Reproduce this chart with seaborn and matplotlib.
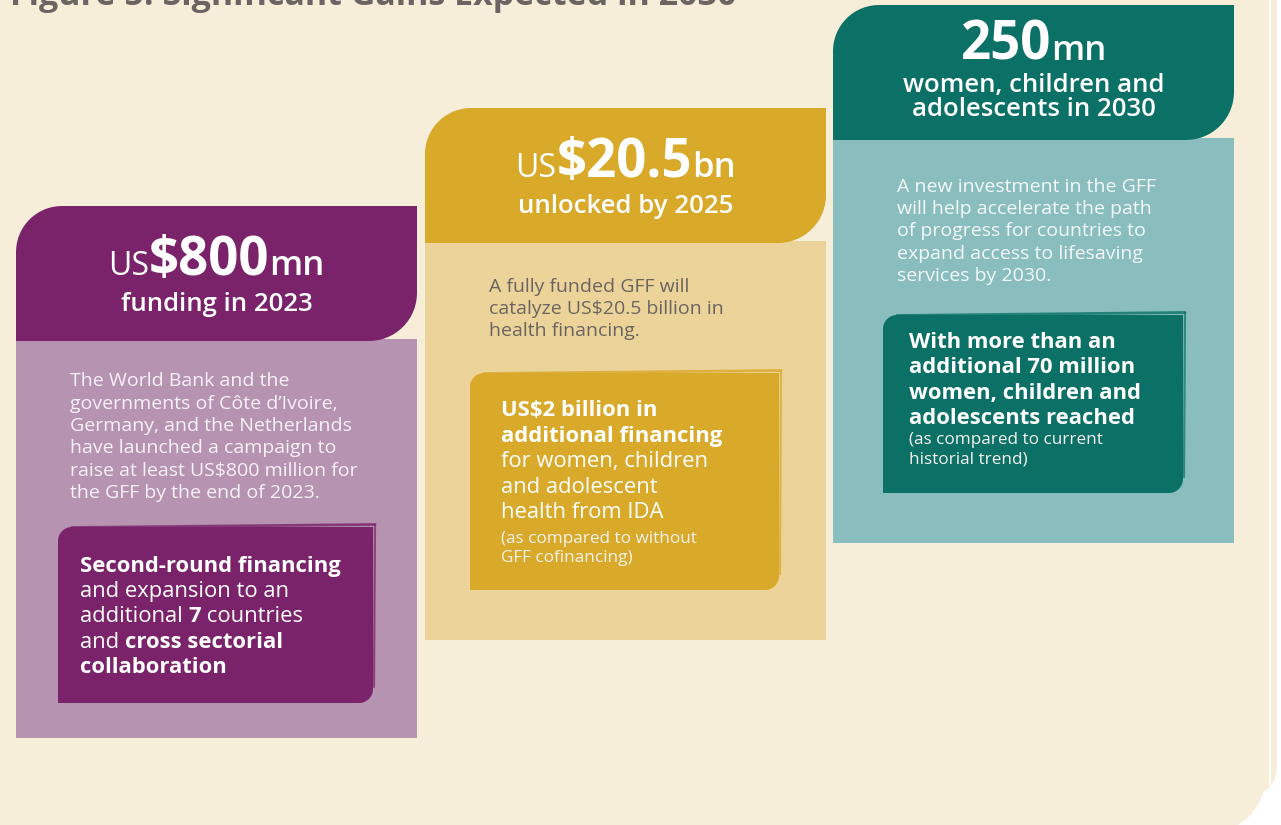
import numpy as np
import matplotlib
matplotlib.use("Agg")
import matplotlib.pyplot as plt
from matplotlib.patches import Polygon, Rectangle, FancyBboxPatch
import seaborn as sns

# ---------------- data ----------------
title = "Figure 5: Significant Gains Expected in 2030"
headline_prefix = ["US", "US", ""]
headline_value = ["$800", "$20.5", "250"]
headline_unit = ["mn", "bn", "mn"]
headline_sub = [["funding in 2023"],
                ["unlocked by 2025"],
                ["women, children and", "adolescents in 2030"]]
body_text = [
    ["The World Bank and the",
     "governments of Côte d’Ivoire,",
     "Germany, and the Netherlands",
     "have launched a campaign to",
     "raise at least US$800 million for",
     "the GFF by the end of 2023."],
    ["A fully funded GFF will",
     "catalyze US$20.5 billion in",
     "health financing."],
    ["A new investment in the GFF",
     "will help accelerate the path",
     "of progress for countries to",
     "expand access to lifesaving",
     "services by 2030."],
]
highlight_1 = [[("Second-round financing", "b")],
               [("and expansion to an", "r")],
               [("additional ", "r"), ("7", "b"), (" countries", "r")],
               [("and ", "r"), ("cross sectorial", "b")],
               [("collaboration", "b")]]
highlight_2 = [[("US$2 billion in", "b")],
               [("additional financing", "b")],
               [("for women, children", "r")],
               [("and adolescent", "r")],
               [("health from IDA", "r")],
               [("(as compared to without", "s")],
               [("GFF cofinancing)", "s")]]
highlight_3 = [[("With more than an", "b")],
               [("additional 70 million", "b")],
               [("women, children and", "b")],
               [("adolescents reached", "b")],
               [("(as compared to current", "s")],
               [("historial trend)", "s")]]
highlights = [highlight_1, highlight_2, highlight_3]

# ---------------- style ----------------
dark_cols = ["#7A236A", "#D9A929", "#0B7167"]
light_cols = ["#B693B1", "#ECD399", "#8ABEBE"]
body_cols = ["#F8F1F6", "#6C6461", "#F3F8F8"]
cream = "#F6EED8"

sns.set_theme(style="white")
FONT = ["Open Sans", "DejaVu Sans"]
plt.rcParams["font.family"] = FONT

W, H = 1281, 825
fig = plt.figure(figsize=(W / 100, H / 100), dpi=100)
fig.patch.set_facecolor("white")
ax = fig.add_axes([0, 0, 1, 1])
ax.set_xlim(0, W)
ax.set_ylim(H, 0)
ax.axis("off")
renderer = fig.canvas.get_renderer()


def rounded_poly(x0, y0, x1, y1, tl=0, tr=0, br=0, bl=0, n=16):
    pts = []

    def arc(cx, cy, r, a0, a1):
        a = np.radians(np.linspace(a0, a1, n))
        return list(zip(cx + r * np.cos(a), cy + r * np.sin(a)))

    pts += arc(x0 + tl, y0 + tl, tl, 180, 270) if tl else [(x0, y0)]
    pts += arc(x1 - tr, y0 + tr, tr, 270, 360) if tr else [(x1, y0)]
    pts += arc(x1 - br, y1 - br, br, 0, 90) if br else [(x1, y1)]
    pts += arc(x0 + bl, y1 - bl, bl, 90, 180) if bl else [(x0, y1)]
    return np.array(pts)


def measure(s, **kw):
    t = ax.text(0, 0, "|" + s + "|", **kw)
    t0 = ax.text(0, 0, "||", **kw)
    w = t.get_window_extent(renderer).width - t0.get_window_extent(renderer).width
    t.remove()
    t0.remove()
    return w


def draw_runs(x, y, parts, ha="left"):
    widths = [measure(s, **kw) for s, kw in parts]
    total = sum(widths)
    start = x - total / 2 if ha == "center" else x
    for (s, kw), w in zip(parts, widths):
        ax.text(start, y, s, va="baseline", ha="left", **kw)
        start += w


# ---------------- background ----------------
ax.add_patch(FancyBboxPatch((-100, -100), 1377, 895,
                            boxstyle="round,pad=0,rounding_size=30",
                            fc=cream, ec="none", zorder=0))
ax.plot([1269.5, 1269.5], [0, 785], color="white", lw=1.4, zorder=0.5)
ax.add_patch(FancyBboxPatch((-100, -100), 1368, 935,
                            boxstyle="round,pad=0,rounding_size=75",
                            fc=cream, ec="none", zorder=1))

# title (mostly clipped at the top edge, as in the source)
ax.text(10, 5, title, fontsize=24.5, fontweight="bold", color="#6B6462",
        va="baseline", ha="left", zorder=2)

# ---------------- panels ----------------
px0 = [16, 425, 833]
pw = 401
htop = [206, 108, 5]
hh = 135
pbottom = [738, 640, 543]

big_base = [275, 177, 60]
sub_base = [311, 213, 92]
sub_step = 24
body_x = [70, 489, 897]
body_base = [386.5, 292, 192]
body_step = [22.3, 22, 22.2]

box = [(58, 525, 373, 703), (470, 371, 779, 590), (883, 313, 1183, 493)]
box_x = [80, 501, 909]
box_base = [[572, 597.5, 622.5, 647.5, 673],
            [416, 442, 467, 493, 518, 543, 562],
            [348, 373, 399, 424, 444, 463]]

for i in range(3):
    x0, x1 = px0[i], px0[i] + pw
    cx = (x0 + x1) / 2
    # light body panel
    ax.add_patch(Rectangle((x0, htop[i] + hh - 2), pw, pbottom[i] - htop[i] - hh + 2,
                           fc=light_cols[i], ec="none", zorder=2))
    # dark header
    ax.add_patch(Polygon(rounded_poly(x0, htop[i], x1, htop[i] + hh, tl=46, br=48),
                         closed=True, fc=dark_cols[i], ec="none", zorder=3))
    # headline
    parts = []
    if headline_prefix[i]:
        parts.append((headline_prefix[i], dict(fontsize=23, fontweight="medium", color="white", zorder=4)))
    parts.append((headline_value[i], dict(fontsize=38, fontweight="bold", color="white", zorder=4)))
    parts.append((headline_unit[i], dict(fontsize=25, fontweight="semibold", color="white", zorder=4)))
    draw_runs(cx, big_base[i], parts, ha="center")
    for k, line in enumerate(headline_sub[i]):
        ax.text(cx, sub_base[i] + k * sub_step, line, fontsize=18.5, fontweight="semibold",
                color="white", ha="center", va="baseline", zorder=4)
    # body text
    for k, line in enumerate(body_text[i]):
        ax.text(body_x[i], body_base[i] + k * body_step[i], line, fontsize=14,
                color=body_cols[i], ha="left", va="baseline", zorder=4)
    # inner highlight box (brush-like edges)
    bx0, by0, bx1, by1 = box[i]
    ax.add_patch(Polygon(rounded_poly(bx0, by0 + 2, bx1, by1, tl=14, br=14),
                         closed=True, fc=dark_cols[i], ec="none", zorder=3))
    ax.plot([bx0 + 14, bx1 + 2], [by0 + 2.5, by0 - 0.5], color=dark_cols[i], lw=2.0, alpha=0.8,
            solid_capstyle="round", zorder=3)
    ax.plot([bx1 + 2, bx1 + 1], [by0 - 0.5, by1 - 16], color=dark_cols[i], lw=1.6, alpha=0.7,
            solid_capstyle="round", zorder=3)
    for k, line in enumerate(highlights[i]):
        parts = []
        for s, sty in line:
            if sty == "b":
                kw = dict(fontsize=15.8, fontweight="bold", color="white", zorder=4)
            elif sty == "r":
                kw = dict(fontsize=15.8, fontweight="normal", color="white", zorder=4)
            else:
                kw = dict(fontsize=12.3, fontweight="normal", color="#F6F1EC", zorder=4)
            parts.append((s, kw))
        draw_runs(box_x[i], box_base[i][k], parts)

fig.savefig("out.png", dpi=100, facecolor=fig.get_facecolor())
